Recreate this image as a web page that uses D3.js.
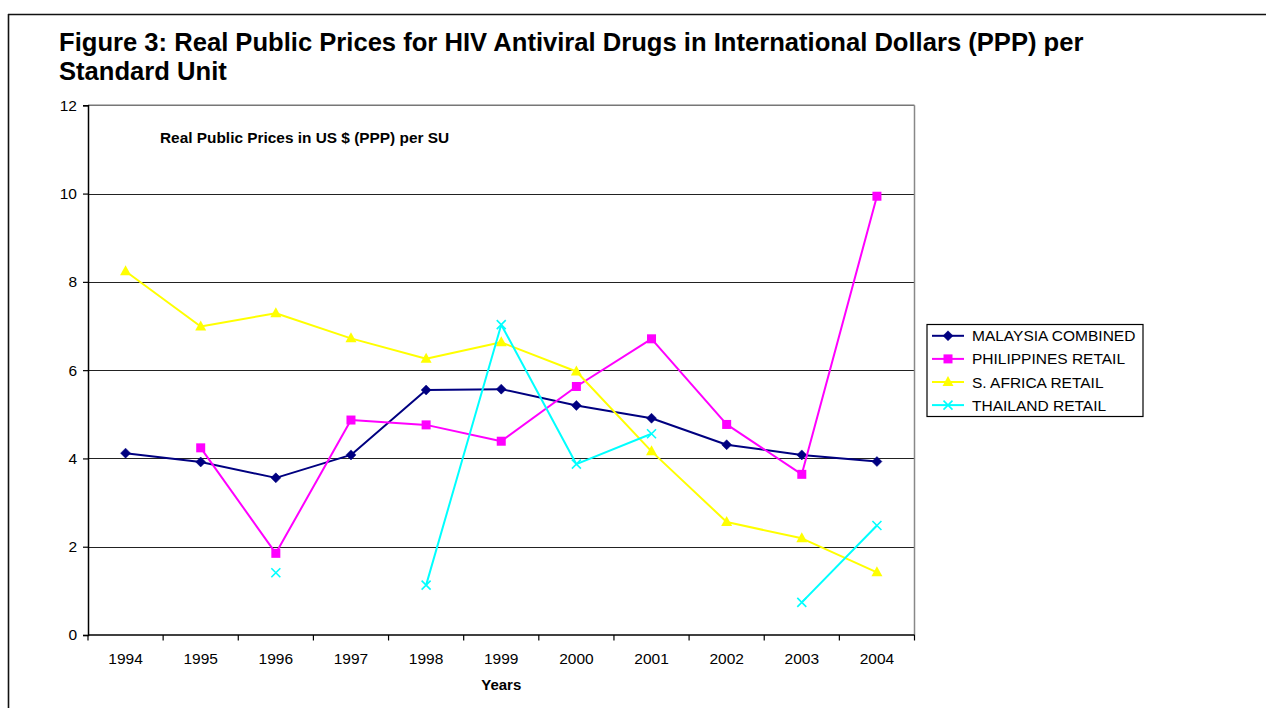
<!DOCTYPE html>
<html>
<head>
<meta charset="utf-8">
<script src="https://cdn.jsdelivr.net/npm/d3@7"></script>
<style>
  html, body { margin: 0; padding: 0; background: #fff; }
  svg { display: block; font-family: "Liberation Sans", Arial, Helvetica, sans-serif; }
</style>
</head>
<body>
<svg id="chart" width="1266" height="708"></svg>
<script>
// ---- data ----
const years = ["1994","1995","1996","1997","1998","1999","2000","2001","2002","2003","2004"];
const malaysia    = [4.12, 3.92, 3.56, 4.08, 5.55, 5.57, 5.20, 4.91, 4.31, 4.08, 3.93];
const philippines = [null, 4.24, 1.85, 4.87, 4.76, 4.39, 5.63, 6.71, 4.77, 3.64, 9.94];
const safrica     = [8.24, 6.99, 7.29, 6.72, 6.26, 6.63, 5.97, 4.16, 2.56, 2.19, 1.42];
const thailand    = [null, null, 1.41, null, 1.13, 7.03, 3.87, 4.56, null, 0.74, 2.48];
const seriesNames = ["MALAYSIA COMBINED", "PHILIPPINES RETAIL", "S. AFRICA RETAIL", "THAILAND RETAIL"];
const yTicks = [0, 2, 4, 6, 8, 10, 12];
const titleLines = ["Figure 3: Real Public Prices for HIV Antiviral Drugs in International Dollars (PPP) per", "Standard Unit"];
const innerTitle = "Real Public Prices in US $ (PPP) per SU";
const xTitle = "Years";

const seriesData = [malaysia, philippines, safrica, thailand];
const colors = ["#000080", "#FF00FF", "#FFFF00", "#00FFFF"];
const markers = ["diamond", "square", "triangle", "x"];

const svg = d3.select("#chart");
const W = 1266, H = 708;
const plot = { left: 88, right: 914.5, top: 105.3, bottom: 635 };

// frame
svg.append("line").attr("x1", 8).attr("x2", W).attr("y1", 14.5).attr("y2", 14.5)
  .attr("stroke", "#111").attr("stroke-width", 1.6);
svg.append("line").attr("x1", 8.5).attr("x2", 8.5).attr("y1", 14).attr("y2", H)
  .attr("stroke", "#111").attr("stroke-width", 1.6);

// title
svg.selectAll("text.title").data(titleLines).enter().append("text")
  .attr("class", "title")
  .attr("x", 59).attr("y", (d, i) => 50.5 + i * 29)
  .attr("font-size", 25.6).attr("font-weight", "bold").attr("fill", "#000")
  .text(d => d);

const x = d3.scaleBand().domain(years).range([plot.left, plot.right]).padding(0);
const y = d3.scaleLinear().domain([0, 12]).range([plot.bottom, plot.top]);

// gridlines
svg.append("g").selectAll("line").data(yTicks.filter(t => t > 0 && t < 12)).enter().append("line")
  .attr("x1", plot.left).attr("x2", plot.right)
  .attr("y1", d => Math.round(y(d)) + 0.5).attr("y2", d => Math.round(y(d)) + 0.5)
  .attr("stroke", "#222").attr("stroke-width", 1.2);

// plot area border (top & right)
svg.append("line").attr("x1", plot.left).attr("x2", plot.right)
  .attr("y1", y(12)).attr("y2", y(12)).attr("stroke", "#777").attr("stroke-width", 1.5);
svg.append("line").attr("x1", plot.right).attr("x2", plot.right)
  .attr("y1", y(12)).attr("y2", plot.bottom).attr("stroke", "#888").attr("stroke-width", 1.5);

// y axis
const yAxis = d3.axisLeft(y).tickValues(yTicks).tickSize(5).tickPadding(6).tickFormat(d3.format("d"));
const gy = svg.append("g").attr("transform", `translate(${plot.left},0)`).call(yAxis);
gy.select(".domain").attr("stroke", "#000").attr("stroke-width", 1.5);
gy.selectAll(".tick line").attr("stroke", "#000").attr("stroke-width", 1.2);
gy.selectAll(".tick text").attr("font-size", 15.5).attr("fill", "#000")
  .attr("font-family", "'Liberation Sans', Arial, sans-serif");

// x axis: ticks at category boundaries
const gx = svg.append("g").attr("transform", `translate(0,${plot.bottom})`);
gx.append("line").attr("x1", plot.left).attr("x2", plot.right).attr("y1", 0).attr("y2", 0)
  .attr("stroke", "#000").attr("stroke-width", 1.5);
const boundaries = years.map(d => x(d)).concat([plot.right]);
gx.selectAll("line.tk").data(boundaries).enter().append("line").attr("class", "tk")
  .attr("x1", d => d).attr("x2", d => d).attr("y1", 0).attr("y2", 5.5)
  .attr("stroke", "#000").attr("stroke-width", 1.2);
gx.selectAll("text").data(years).enter().append("text")
  .attr("x", d => x(d) + x.bandwidth() / 2).attr("y", 28.5)
  .attr("text-anchor", "middle").attr("font-size", 15.5).attr("fill", "#000")
  .text(d => d);

// axis title
svg.append("text").attr("x", (plot.left + plot.right) / 2).attr("y", 689.5)
  .attr("text-anchor", "middle").attr("font-size", 15).attr("font-weight", "bold")
  .text(xTitle);

// inner title
svg.append("text").attr("x", 160).attr("y", 142.5)
  .attr("font-size", 15.4).attr("font-weight", "bold").text(innerTitle);

// marker drawing
function drawMarker(g, type, color, cx, cy) {
  if (type === "diamond") {
    g.append("path").attr("d", `M${cx},${cy-5}L${cx+5},${cy}L${cx},${cy+5}L${cx-5},${cy}Z`)
      .attr("fill", color).attr("stroke", color).attr("stroke-width", 0.5);
  } else if (type === "square") {
    g.append("rect").attr("x", cx - 4.5).attr("y", cy - 4.5).attr("width", 9).attr("height", 9)
      .attr("fill", color);
  } else if (type === "triangle") {
    g.append("path").attr("d", `M${cx},${cy-6}L${cx+5.5},${cy+4}L${cx-5.5},${cy+4}Z`)
      .attr("fill", color);
  } else if (type === "x") {
    g.append("path").attr("d", `M${cx-4.5},${cy-4.5}L${cx+4.5},${cy+4.5}M${cx-4.5},${cy+4.5}L${cx+4.5},${cy-4.5}`)
      .attr("stroke", color).attr("stroke-width", 1.6).attr("fill", "none");
  }
}

const line = d3.line()
  .defined(d => d.v !== null)
  .x(d => x(d.year) + x.bandwidth() / 2)
  .y(d => y(d.v));

const lineOrder = [0, 1, 2, 3];
lineOrder.forEach(si => {
  const pts = years.map((yr, i) => ({ year: yr, v: seriesData[si][i] }));
  const g = svg.append("g");
  g.append("path").datum(pts).attr("d", line)
    .attr("fill", "none").attr("stroke", colors[si]).attr("stroke-width", 2)
    .attr("stroke-linejoin", "round");
  pts.filter(d => d.v !== null).forEach(d => {
    drawMarker(g, markers[si], colors[si], x(d.year) + x.bandwidth() / 2, y(d.v));
  });
});

// legend
const lg = svg.append("g");
lg.append("rect").attr("x", 927).attr("y", 324.5).attr("width", 216).attr("height", 92)
  .attr("fill", "#fff").attr("stroke", "#000").attr("stroke-width", 1.2);
seriesNames.forEach((name, i) => {
  const cy = 335.8 + i * 23.1;
  lg.append("line").attr("x1", 932).attr("x2", 964).attr("y1", cy).attr("y2", cy)
    .attr("stroke", colors[i]).attr("stroke-width", 2);
  drawMarker(lg, markers[i], colors[i], 948, cy);
  lg.append("text").attr("x", 972).attr("y", cy + 5.5)
    .attr("font-size", 15.5).attr("fill", "#000").text(name);
});
</script>
</body>
</html>
